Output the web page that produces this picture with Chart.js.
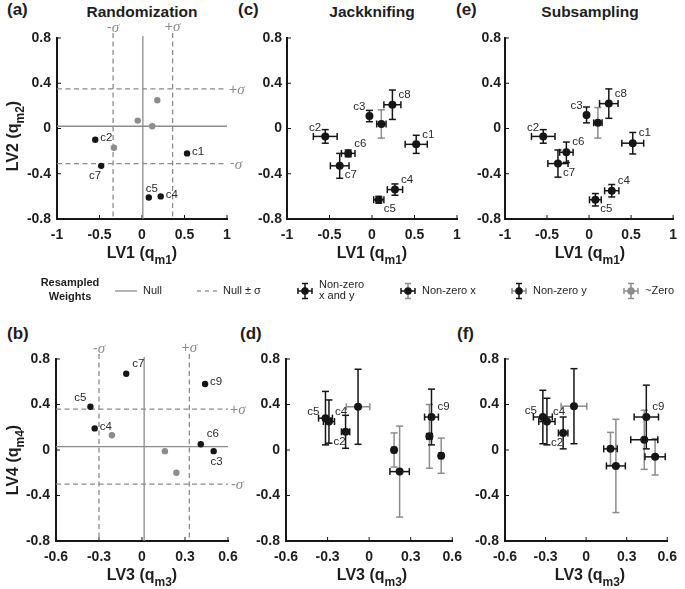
<!DOCTYPE html>
<html>
<head>
<meta charset="utf-8">
<script src="https://cdn.jsdelivr.net/npm/chart.js@4.4.0/dist/chart.umd.min.js"></script>
<style>
body{margin:0;background:#fff;width:685px;height:589px;position:relative;overflow:hidden;font-family:"Liberation Sans",Arial,sans-serif;color:#1e1e1e;}
canvas{position:absolute;}
.tx{position:absolute;white-space:nowrap;}
.pl{font-weight:bold;font-size:17px;line-height:17px;}
.ti{font-weight:bold;font-size:15.5px;line-height:15.5px;transform:translateX(-50%);}
.xl{font-weight:bold;font-size:16px;line-height:16px;transform:translateX(-50%);}
.yl{font-weight:bold;font-size:16px;line-height:16px;transform:translate(-50%,-50%) rotate(-90deg);}
.sb{font-size:12px;position:relative;top:6px;}
.lg{font-size:11px;line-height:11px;}
.lgb{font-size:11px;line-height:11px;font-weight:bold;transform:translateX(-50%);}
</style>
</head>
<body>
<div class="tx pl" style="left:7px;top:1px">(a)</div>
<div class="tx pl" style="left:238px;top:1px">(c)</div>
<div class="tx pl" style="left:456px;top:1px">(e)</div>
<div class="tx pl" style="left:7px;top:325px">(b)</div>
<div class="tx pl" style="left:240px;top:325px">(d)</div>
<div class="tx pl" style="left:457px;top:325px">(f)</div>

<div class="tx ti" style="left:142px;top:4px">Randomization</div>
<div class="tx ti" style="left:372px;top:4px">Jackknifing</div>
<div class="tx ti" style="left:590px;top:4px">Subsampling</div>

<canvas id="pa" width="252" height="229" style="left:0px;top:18px"></canvas>
<canvas id="pc" width="240" height="229" style="left:230px;top:18px"></canvas>
<canvas id="pe" width="230" height="229" style="left:455px;top:18px"></canvas>
<canvas id="pb" width="252" height="230" style="left:0px;top:339px"></canvas>
<canvas id="pd" width="240" height="230" style="left:230px;top:339px"></canvas>
<canvas id="pf" width="230" height="230" style="left:455px;top:339px"></canvas>
<canvas id="legend" width="685" height="30" style="left:0px;top:276px"></canvas>

<div class="tx xl" style="left:142px;top:245px">LV1 (q<span class="sb">m1</span>)</div>
<div class="tx xl" style="left:372px;top:245px">LV1 (q<span class="sb">m1</span>)</div>
<div class="tx xl" style="left:590px;top:245px">LV1 (q<span class="sb">m1</span>)</div>
<div class="tx xl" style="left:142px;top:567px">LV3 (q<span class="sb">m3</span>)</div>
<div class="tx xl" style="left:372px;top:567px">LV3 (q<span class="sb">m3</span>)</div>
<div class="tx xl" style="left:590px;top:567px">LV3 (q<span class="sb">m3</span>)</div>
<div class="tx yl" style="left:13px;top:136px">LV2 (q<span class="sb">m2</span>)</div>
<div class="tx yl" style="left:13px;top:460px">LV4 (q<span class="sb">m4</span>)</div>

<div class="tx lgb" style="left:70px;top:277px">Resampled</div>
<div class="tx lgb" style="left:70px;top:291px">Weights</div>
<div class="tx lg" style="left:143px;top:285px">Null</div>
<div class="tx lg" style="left:223px;top:285px">Null ± σ</div>
<div class="tx lg" style="left:319px;top:279px">Non-zero</div>
<div class="tx lg" style="left:319px;top:290px">x and y</div>
<div class="tx lg" style="left:422px;top:285px">Non-zero x</div>
<div class="tx lg" style="left:533px;top:285px">Non-zero y</div>
<div class="tx lg" style="left:645px;top:285px">~Zero</div>

<script>
// (a) Randomization, LV1 vs LV2
const randLab12 = ['c1', 'c2', 'c7', 'c5', 'c4'];
const randLV1 = [0.53, -0.55, -0.48, 0.08, 0.22];
const randLV2 = [-0.22, -0.10, -0.33, -0.61, -0.60];
const randZeroLV1 = [-0.05, 0.18, 0.12, -0.33];
const randZeroLV2 = [0.07, 0.25, 0.02, -0.17];
const nullLV12 = [0.01, 0.02];
const sigmaLV1 = [-0.34, 0.36];
const sigmaLV2 = [-0.31, 0.35];

// (b) Randomization, LV3 vs LV4
const randLab34 = ['c7', 'c9', 'c5', 'c4', 'c6', 'c3'];
const randLV3 = [-0.11, 0.44, -0.36, -0.33, 0.41, 0.50];
const randLV4 = [0.67, 0.58, 0.38, 0.19, 0.05, -0.01];
const randZeroLV3 = [-0.21, 0.16, 0.24];
const randZeroLV4 = [0.13, -0.01, -0.20];
const nullLV34 = [0.015, 0.03];
const sigmaLV3 = [-0.30, 0.33];
const sigmaLV4 = [-0.30, 0.36];

// (c) / (e) LV1 vs LV2 with error bars
const lab12 = ['c1', 'c2', 'c3', 'c4', 'c5', 'c6', 'c7', 'c8', ''];
const jackLV1 = [0.52, -0.55, -0.03, 0.27, 0.08, -0.28, -0.38, 0.24, 0.11];
const jackLV2 = [-0.14, -0.07, 0.11, -0.54, -0.63, -0.22, -0.33, 0.21, 0.04];
const jackErr1 = [0.13, 0.14, 0.02, 0.09, 0.06, 0.08, 0.11, 0.10, 0.055];
const jackErr2 = [0.08, 0.06, 0.05, 0.05, 0.03, 0.03, 0.11, 0.13, 0.125];
const subLV1 = [0.52, -0.545, -0.03, 0.27, 0.075, -0.27, -0.37, 0.235, 0.105];
const subLV2 = [-0.13, -0.07, 0.12, -0.55, -0.63, -0.21, -0.31, 0.22, 0.05];
const subErr1 = [0.13, 0.14, 0.02, 0.085, 0.07, 0.08, 0.12, 0.11, 0.05];
const subErr2 = [0.095, 0.06, 0.07, 0.055, 0.055, 0.09, 0.12, 0.13, 0.135];
const nonZero1 = [1, 1, 0, 1, 1, 1, 1, 1, 1];
const nonZero2 = [1, 1, 1, 1, 1, 1, 1, 1, 0];

// (d) / (f) LV3 vs LV4 with error bars
const lab34 = ['c5', 'c4', 'c2', '', '', '', 'c9', '', ''];
const jackLV3 = [-0.315, -0.29, -0.17, -0.08, 0.18, 0.22, 0.45, 0.435, 0.52];
const jackLV4 = [0.28, 0.25, 0.16, 0.38, 0.00, -0.19, 0.29, 0.12, -0.05];
const jackErr3 = [0.05, 0.04, 0.03, 0.085, 0.015, 0.07, 0.05, 0.02, 0.015];
const jackErr4 = [0.235, 0.19, 0.145, 0.33, 0.15, 0.40, 0.245, 0.28, 0.155];
const subLV3 = [-0.32, -0.29, -0.17, -0.09, 0.18, 0.22, 0.445, 0.43, 0.51];
const subLV4 = [0.29, 0.25, 0.15, 0.385, 0.01, -0.14, 0.29, 0.09, -0.06];
const subErr3 = [0.07, 0.06, 0.035, 0.095, 0.05, 0.07, 0.09, 0.10, 0.075];
const subErr4 = [0.235, 0.205, 0.14, 0.33, 0.145, 0.41, 0.28, 0.26, 0.16];
const nonZero3 = [1, 1, 1, 0, 1, 1, 1, 1, 1];
const nonZero4 = [1, 1, 1, 1, 0, 0, 1, 0, 0];

// label placement around the dots
const pos12r = ['e', 'e', 'sw', 'n', 'e'];
const pos34r = ['ne', 'e', 'nw', 'e', 'ne', 's'];
const pos12 = ['ne', 'nw', 'nw', 'ne', 'se', 'ne', 'se', 'ne', ''];
const pos34 = ['w', 'ne', 'sw', '', '', '', 'ne', '', ''];

const INK = '#161616', GRAY = '#8c8c8c';
const LBL = {e: ['left', 5, -2], ne: ['left', 6, -10], nw: ['right', -4, -9], se: ['left', 5, 9],
             sw: ['right', 0, 10], n: ['center', 3, -9], s: ['center', 3, 11], w: ['right', -6, -6]};

function seg(ctx, x1, y1, x2, y2) {
  ctx.beginPath(); ctx.moveTo(x1, y1); ctx.lineTo(x2, y2); ctx.stroke();
}

function sigText(ctx, sign, x, y, center) {
  ctx.font = '14px "Liberation Sans"';
  const w1 = ctx.measureText(sign).width;
  ctx.font = 'italic 15px "Liberation Serif"';
  const w2 = ctx.measureText('σ').width;
  const x0 = center ? x - (w1 + w2) / 2 : x;
  ctx.textAlign = 'left'; ctx.textBaseline = 'middle'; ctx.fillStyle = GRAY;
  ctx.font = '14px "Liberation Sans"'; ctx.fillText(sign, x0, y);
  ctx.font = 'italic 15px "Liberation Serif"'; ctx.fillText('σ', x0 + w1, y);
}

function hbar(ctx, l, r, py, cap) {
  seg(ctx, l, py, r, py); seg(ctx, l, py - cap, l, py + cap); seg(ctx, r, py - cap, r, py + cap);
}
function vbar(ctx, t, b, px, cap) {
  seg(ctx, px, t, px, b); seg(ctx, px - cap, t, px + cap, t); seg(ctx, px - cap, b, px + cap, b);
}

const decor = {
  id: 'decor',
  beforeDatasetsDraw(chart, args, o) {
    const {ctx, chartArea: a, scales: {x, y}} = chart;
    ctx.save();
    // inward tick marks
    ctx.strokeStyle = INK; ctx.lineWidth = 1;
    x.ticks.forEach(t => { const p = x.getPixelForValue(t.value); seg(ctx, p, a.bottom, p, a.bottom - 4); });
    y.ticks.forEach(t => { const p = y.getPixelForValue(t.value); seg(ctx, a.left, p, a.left + 4, p); });

    if (o.nul) {
      ctx.strokeStyle = GRAY; ctx.lineWidth = 1.3;
      const nx = x.getPixelForValue(o.nul[0]), ny = y.getPixelForValue(o.nul[1]);
      seg(ctx, nx, a.top - 2, nx, a.bottom);
      seg(ctx, a.left, ny, a.right, ny);
      ctx.setLineDash([5, 3.5]);
      o.sigX.forEach(v => { const p = x.getPixelForValue(v); seg(ctx, p, a.top - 5, p, a.bottom); });
      o.sigY.forEach(v => { const p = y.getPixelForValue(v); seg(ctx, a.left, p, a.right, p); });
      ctx.setLineDash([]);
      sigText(ctx, '-', x.getPixelForValue(o.sigX[0]), a.top - 10, true);
      sigText(ctx, '+', x.getPixelForValue(o.sigX[1]), a.top - 11, true);
      sigText(ctx, '+', a.right + 2, y.getPixelForValue(o.sigY[1]) + 1, false);
      sigText(ctx, '-', a.right + 3, y.getPixelForValue(o.sigY[0]) + 1, false);
    }

    if (o.ex) {
      const pts = chart.data.datasets[0].data;
      ctx.lineWidth = 1.5;
      [0, 1].forEach(pass => {
        ctx.strokeStyle = pass ? INK : GRAY;
        pts.forEach((p, i) => {
          const px = x.getPixelForValue(p.x), py = y.getPixelForValue(p.y);
          if (o.okX[i] === pass)
            hbar(ctx, x.getPixelForValue(p.x - o.ex[i]), x.getPixelForValue(p.x + o.ex[i]), py, 3.5);
          if (o.okY[i] === pass)
            vbar(ctx, y.getPixelForValue(p.y + o.ey[i]), y.getPixelForValue(p.y - o.ey[i]), px, 3.5);
        });
      });
    }
    ctx.restore();
  },
  afterDatasetsDraw(chart, args, o) {
    const {ctx, scales: {x, y}} = chart;
    const pts = chart.data.datasets[0].data;
    ctx.save();
    ctx.font = '11.5px "Liberation Sans"';
    ctx.fillStyle = '#2a2a2a';
    ctx.textBaseline = 'middle';
    pts.forEach((p, i) => {
      if (!o.lab[i]) return;
      const [al, dx, dy] = LBL[o.pos[i]];
      ctx.textAlign = al;
      ctx.fillText(o.lab[i], x.getPixelForValue(p.x) + dx, y.getPixelForValue(p.y) + dy);
    });
    ctx.restore();
  }
};

const fmt = v => String(+(+v).toFixed(1));
const tickFont = {family: '"Liberation Sans", Arial', size: 14, weight: 'bold'};
const toPts = (xs, ys) => xs.map((v, i) => ({x: v, y: ys[i]}));

function panel(id, geo, xr, datasets, deco) {
  return new Chart(document.getElementById(id), {
    type: 'scatter',
    data: {datasets},
    options: {
      responsive: false,
      animation: false,
      events: [],
      layout: {padding: {left: 0, right: geo.pr, top: 20, bottom: 0}},
      plugins: {legend: {display: false}, tooltip: {enabled: false}, decor: deco},
      scales: {
        x: {
          type: 'linear', min: xr[0], max: xr[1],
          ticks: {stepSize: xr[2], padding: 8, color: '#1e1e1e', font: tickFont, callback: fmt},
          grid: {display: false, drawTicks: false},
          border: {display: true, color: INK, width: 2},
          afterFit: s => { s.height = 28; }
        },
        y: {
          type: 'linear', min: -0.8, max: 0.8,
          ticks: {stepSize: 0.4, padding: geo.tp, color: '#1e1e1e', font: tickFont, callback: fmt},
          grid: {display: false, drawTicks: false},
          border: {display: true, color: INK, width: 2},
          afterFit: s => { s.width = geo.yw; }
        }
      }
    },
    plugins: [decor]
  });
}

const dot = (data, color, r) => ({data, backgroundColor: color, borderWidth: 0, pointRadius: r, clip: false});

panel('pa', {yw: 57, pr: 25, tp: 6}, [-1, 1, 0.5],
  [dot(toPts(randLV1, randLV2), INK, 3.2), dot(toPts(randZeroLV1, randZeroLV2), GRAY, 3.2)],
  {lab: randLab12, pos: pos12r, nul: nullLV12, sigX: sigmaLV1, sigY: sigmaLV2});

panel('pb', {yw: 56, pr: 24, tp: 6}, [-0.6, 0.6, 0.3],
  [dot(toPts(randLV3, randLV4), INK, 3.2), dot(toPts(randZeroLV3, randZeroLV4), GRAY, 3.2)],
  {lab: randLab34, pos: pos34r, nul: nullLV34, sigX: sigmaLV3, sigY: sigmaLV4});

panel('pc', {yw: 57, pr: 13, tp: 5}, [-1, 1, 0.5],
  [dot(toPts(jackLV1, jackLV2), INK, 4)],
  {lab: lab12, pos: pos12, ex: jackErr1, ey: jackErr2, okX: nonZero1, okY: nonZero2});

panel('pe', {yw: 50, pr: 10, tp: 4}, [-1, 1, 0.5],
  [dot(toPts(subLV1, subLV2), INK, 4)],
  {lab: lab12, pos: pos12, ex: subErr1, ey: subErr2, okX: nonZero1, okY: nonZero2});

panel('pd', {yw: 56, pr: 12, tp: 6}, [-0.6, 0.6, 0.3],
  [dot(toPts(jackLV3, jackLV4), INK, 4)],
  {lab: lab34, pos: pos34, ex: jackErr3, ey: jackErr4, okX: nonZero3, okY: nonZero4});

panel('pf', {yw: 50, pr: 9, tp: 6}, [-0.6, 0.6, 0.3],
  [dot(toPts(subLV3, subLV4), INK, 4)],
  {lab: lab34, pos: pos34, ex: subErr3, ey: subErr4, okX: nonZero3, okY: nonZero4});

// legend samples
(function () {
  const ctx = document.getElementById('legend').getContext('2d');
  const cy = 15;
  ctx.strokeStyle = GRAY; ctx.lineWidth = 1.3;
  seg(ctx, 115, cy, 137, cy);
  ctx.setLineDash([4, 4]);
  seg(ctx, 197, cy, 219, cy);
  ctx.setLineDash([]);
  const icon = (cx, colX, colY, colDot) => {
    ctx.lineWidth = 1.5;
    ctx.strokeStyle = colY; vbar(ctx, cy - 7.5, cy + 7.5, cx, 3);
    ctx.strokeStyle = colX; hbar(ctx, cx - 7, cx + 7, cy, 3);
    ctx.fillStyle = colDot; ctx.beginPath(); ctx.arc(cx, cy, 3.8, 0, Math.PI * 2); ctx.fill();
  };
  icon(305, INK, INK, INK);
  icon(408, INK, GRAY, INK);
  icon(519, GRAY, INK, INK);
  icon(631, GRAY, GRAY, GRAY);
})();
</script>
</body>
</html>
